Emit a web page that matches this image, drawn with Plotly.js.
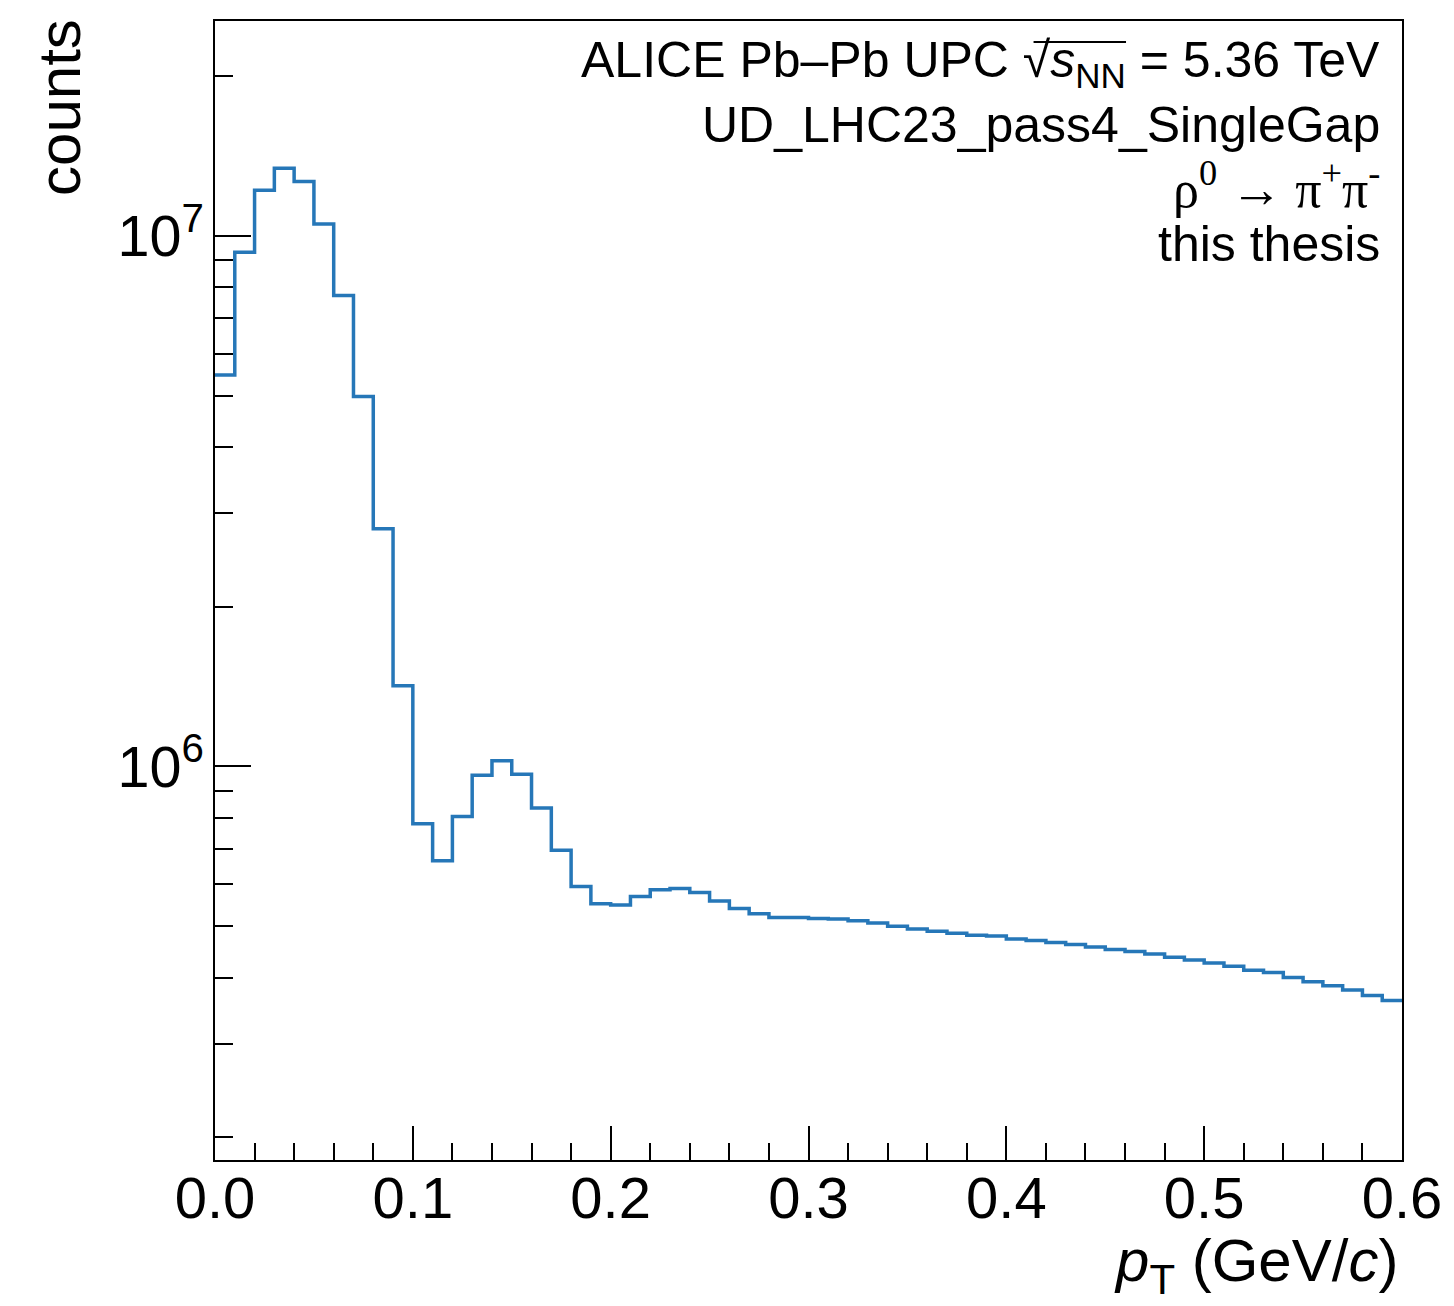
<!DOCTYPE html>
<html>
<head>
<meta charset="utf-8">
<script src="https://cdn.plot.ly/plotly-3.0.1.min.js"></script>
<style>html,body{margin:0;padding:0;background:#fff;}#chart{width:1454px;height:1306px;}</style>
</head>
<body>
<div id="chart"></div>
<script>
// pT bin edges (GeV/c), 0.01 wide bins
const binEdges = [
  0.00,0.01,0.02,0.03,0.04,0.05,0.06,0.07,0.08,0.09,
  0.10,0.11,0.12,0.13,0.14,0.15,0.16,0.17,0.18,0.19,
  0.20,0.21,0.22,0.23,0.24,0.25,0.26,0.27,0.28,0.29,
  0.30,0.31,0.32,0.33,0.34,0.35,0.36,0.37,0.38,0.39,
  0.40,0.41,0.42,0.43,0.44,0.45,0.46,0.47,0.48,0.49,
  0.50,0.51,0.52,0.53,0.54,0.55,0.56,0.57,0.58,0.59,
  0.60
];
// counts per bin
const counts = [
  5.47e6, 9.32e6, 1.219e7, 1.342e7, 1.266e7, 1.053e7, 7.72e6, 4.98e6, 2.805e6, 1.419e6,
  7.80e5, 6.64e5, 8.05e5, 9.63e5, 1.025e6, 9.67e5, 8.35e5, 6.95e5, 5.94e5, 5.51e5,
  5.48e5, 5.69e5, 5.86e5, 5.89e5, 5.79e5, 5.58e5, 5.40e5, 5.28e5, 5.19e5, 5.19e5,
  5.17e5, 5.16e5, 5.12e5, 5.07e5, 5.00e5, 4.94e5, 4.89e5, 4.85e5, 4.81e5, 4.79e5,
  4.73e5, 4.70e5, 4.66e5, 4.62e5, 4.57e5, 4.52e5, 4.48e5, 4.43e5, 4.37e5, 4.32e5,
  4.26e5, 4.20e5, 4.13e5, 4.09e5, 4.00e5, 3.93e5, 3.86e5, 3.79e5, 3.70e5, 3.62e5
];
const xTitle = '<i>p</i><sub>T</sub> (GeV/<i>c</i>)';
const yTitle = 'counts';
const labelLines = [
  'ALICE Pb–Pb UPC √<i>s</i><sub>NN</sub> = 5.36 TeV',
  'UD_LHC23_pass4_SingleGap',
  'ρ<sup>0</sup> → π<sup>+</sup>π<sup>-</sup>',
  'this thesis'
];

// step outline: each bin's value held across its width, last value held to the upper edge
const stepY = counts.concat([counts[counts.length - 1]]);

const trace = {
  x: binEdges,
  y: stepY,
  type: 'scatter',
  mode: 'lines',
  line: {shape: 'hv', color: '#2677b8', width: 3.5},
  hoverinfo: 'x+y'
};

const FONT = '"Liberation Sans", Arial, Helvetica, sans-serif';
const SERIF = '"Liberation Serif", "Times New Roman", serif';

const lineYs = [0.9623, 0.9087, 0.856, 0.8042];
const annotations = labelLines.map((t, i) => ({
  text: t, xref: 'paper', yref: 'paper', x: 0.9832, y: lineYs[i],
  xanchor: 'right', yanchor: 'middle', showarrow: false,
  font: {family: i === 2 ? SERIF : FONT, size: i === 2 ? 52 : 50, color: '#000'}
}));
annotations.push({
  text: xTitle, xref: 'paper', yref: 'paper', x: 0.9983, y: -0.092,
  xanchor: 'right', yanchor: 'middle', showarrow: false,
  font: {family: FONT, size: 60, color: '#000'}
});
annotations.push({
  text: yTitle, xref: 'paper', yref: 'paper', x: -0.1306, y: 0.9245,
  xanchor: 'center', yanchor: 'middle', showarrow: false, textangle: -90,
  font: {family: FONT, size: 60, color: '#000'}
});

const layout = {
  width: 1454, height: 1306,
  margin: {l: 215, r: 52, t: 21, b: 146, pad: 0},
  paper_bgcolor: '#fff', plot_bgcolor: '#fff',
  showlegend: false,
  font: {family: FONT, color: '#000'},
  xaxis: {
    type: 'linear', range: [0, 0.6],
    dtick: 0.1, tick0: 0, tickformat: '.1f',
    ticks: 'inside', ticklen: 34, tickwidth: 2, tickcolor: '#000',
    minor: {dtick: 0.02, ticks: 'inside', ticklen: 17, tickwidth: 2, tickcolor: '#000', showgrid: false},
    showline: true, linecolor: '#000', linewidth: 2, mirror: true,
    showgrid: false, zeroline: false,
    tickfont: {family: FONT, size: 58, color: '#000'},
    ticklabelstandoff: -14
  },
  yaxis: {
    type: 'log', range: [5.2583, 7.4051],
    dtick: 1, exponentformat: 'power',
    ticks: 'inside', ticklen: 36, tickwidth: 2, tickcolor: '#000',
    minor: {dtick: 'D1', ticks: 'inside', ticklen: 18, tickwidth: 2, tickcolor: '#000', showgrid: false},
    showline: true, linecolor: '#000', linewidth: 2, mirror: true,
    showgrid: false, zeroline: false,
    tickfont: {family: FONT, size: 46, color: '#000'}
  },
  shapes: [
    // overline of the square-root sign
    {type: 'line', xref: 'paper', yref: 'paper', x0: 0.6896, x1: 0.7675, y0: 0.9816, y1: 0.9816,
     line: {color: '#000', width: 2}}
  ],
  annotations: annotations
};

Plotly.newPlot('chart', [trace], layout, {displayModeBar: false, staticPlot: true});
</script>
</body>
</html>
